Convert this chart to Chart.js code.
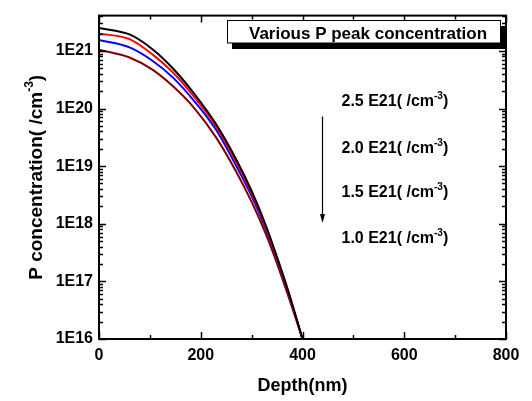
<!DOCTYPE html>
<html>
<head>
<meta charset="utf-8">
<script src="https://cdn.jsdelivr.net/npm/chart.js@4/dist/chart.umd.min.js"></script>
<style>
  body { margin: 0; background: #fff; }
  #wrap { width: 532px; height: 401px; }
</style>
</head>
<body>
<div id="wrap"><canvas id="chart"></canvas></div>
<script>
// depth points (nm)
const depth = [0, 60, 105, 145, 188, 230, 270, 300, 328, 350, 372, 400];

// P concentration (/cm^3) for each peak value
const peak25 = [2.5e21, 1.93e21, 1.07e21, 5.0e20, 1.77e20, 5.37e19, 1.29e19, 3.7e18, 9.3e17, 2.63e17, 6.8e16, 1.0e16];
const peak20 = [2.0e21, 1.6e21, 8.7e20, 4.27e20, 1.56e20, 4.9e19, 1.17e19, 3.39e18, 8.5e17, 2.45e17, 6.5e16, 1.0e16];
const peak15 = [1.55e21, 1.15e21, 6.76e20, 3.47e20, 1.32e20, 4.27e19, 1.0e19, 3.02e18, 7.9e17, 2.34e17, 6.3e16, 1.0e16];
const peak10 = [1.05e21, 7.7e20, 4.73e20, 2.45e20, 1.0e20, 3.16e19, 7.94e18, 2.4e18, 6.6e17, 2.04e17, 5.6e16, 1.0e16];

const seriesLabels = ['2.5 E21', '2.0 E21', '1.5 E21', '1.0 E21'];
const xTicks = [0, 200, 400, 600, 800];
const yDecades = [16, 17, 18, 19, 20, 21];

const FONT = '"Liberation Sans", Arial, sans-serif';

function toPoints(vals) {
    return depth.map((d, i) => ({ x: d, y: vals[i] }));
}

function isDecade(v) {
    const e = Math.log10(v);
    return Math.abs(e - Math.round(e)) < 1e-9;
}

// text with a raised "-3" part, used by the titles and the labels
function drawSup(ctx, x, y, base, sup, tail, size, align) {
    const big = 'bold ' + size + 'px ' + FONT;
    const small = 'bold ' + Math.round(size * 0.62) + 'px ' + FONT;
    ctx.font = big;
    const w1 = ctx.measureText(base).width;
    const w3 = ctx.measureText(tail).width;
    ctx.font = small;
    const w2 = ctx.measureText(sup).width;
    let start = x;
    if (align === 'center') start = x - (w1 + w2 + w3) / 2;
    ctx.textAlign = 'left';
    ctx.textBaseline = 'alphabetic';
    ctx.fillStyle = '#000';
    ctx.font = big;
    ctx.fillText(base, start, y);
    ctx.font = small;
    ctx.fillText(sup, start + w1, y - size * 0.45);
    ctx.font = big;
    ctx.fillText(tail, start + w1 + w2, y);
}

const framePlugin = {
    id: 'frame',
    afterDraw(chart) {
        const ctx = chart.ctx;
        const a = chart.chartArea;
        const xs = chart.scales.x;
        const ys = chart.scales.y;
        ctx.save();
        ctx.strokeStyle = '#000';
        ctx.lineWidth = 2;
        ctx.strokeRect(a.left, a.top, a.right - a.left, a.bottom - a.top);

        // inward tick marks on all four sides
        ctx.lineWidth = 1.5;
        ctx.beginPath();
        for (let v = 0; v <= 800; v += 100) {
            const px = Math.round(xs.getPixelForValue(v)) + 0.5;
            const len = v % 200 === 0 ? 7 : 4;
            ctx.moveTo(px, a.bottom); ctx.lineTo(px, a.bottom - len);
            ctx.moveTo(px, a.top); ctx.lineTo(px, a.top + len);
        }
        yDecades.forEach(e => {
            for (let m = 1; m <= 9; m++) {
                const v = m * Math.pow(10, e);
                if (v > ys.max) break;
                const py = Math.round(ys.getPixelForValue(v)) + 0.5;
                const len = m === 1 ? 7 : 4;
                ctx.moveTo(a.left, py); ctx.lineTo(a.left + len, py);
                ctx.moveTo(a.right, py); ctx.lineTo(a.right - len, py);
            }
        });
        ctx.stroke();
        ctx.restore();
    }
};

const notesPlugin = {
    id: 'notes',
    afterDraw(chart) {
        const ctx = chart.ctx;
        const a = chart.chartArea;
        ctx.save();

        // title box with shadow
        ctx.fillStyle = '#000';
        ctx.fillRect(232, 26, 274, 23);
        ctx.fillStyle = '#fff';
        ctx.fillRect(227.5, 20.5, 273, 22.5);
        ctx.strokeStyle = '#000';
        ctx.lineWidth = 1;
        ctx.strokeRect(227.5, 20.5, 273, 22.5);
        ctx.fillStyle = '#000';
        ctx.font = 'bold 17px ' + FONT;
        ctx.textAlign = 'left';
        ctx.textBaseline = 'alphabetic';
        ctx.fillText('Various P peak concentration', 249, 38.5);

        // peak labels
        const baselines = [106, 152.7, 196.7, 243.3];
        seriesLabels.forEach((s, i) => {
            drawSup(ctx, 341.5, baselines[i], s + '( /cm', '-3', ')', 16, 'left');
        });

        // arrow
        ctx.strokeStyle = '#000';
        ctx.lineWidth = 1.2;
        ctx.beginPath();
        ctx.moveTo(322.5, 116.5);
        ctx.lineTo(322.5, 216);
        ctx.stroke();
        ctx.beginPath();
        ctx.moveTo(320, 214);
        ctx.lineTo(325, 214);
        ctx.lineTo(322.5, 223);
        ctx.closePath();
        ctx.fill();

        // y axis title
        ctx.translate(35.5, (a.top + a.bottom) / 2);
        ctx.rotate(-Math.PI / 2);
        drawSup(ctx, 0, 6, 'P concentration( /cm', '-3', ')', 19, 'center');
        ctx.restore();
    }
};

new Chart(document.getElementById('chart'), {
    type: 'line',
    data: {
        datasets: [
            { label: seriesLabels[0], data: toPoints(peak25), borderColor: '#000000' },
            { label: seriesLabels[1], data: toPoints(peak20), borderColor: '#ff0000' },
            { label: seriesLabels[2], data: toPoints(peak15), borderColor: '#0000ff' },
            { label: seriesLabels[3], data: toPoints(peak10), borderColor: '#800000' }
        ].map(ds => Object.assign(ds, { borderWidth: 2, pointRadius: 0, cubicInterpolationMode: 'monotone', fill: false }))
    },
    options: {
        responsive: true,
        maintainAspectRatio: false,
        animation: false,
        layout: { padding: { left: 0, right: 26, top: 10, bottom: 0 } },
        plugins: {
            legend: { display: false },
            tooltip: { enabled: false }
        },
        scales: {
            x: {
                type: 'linear',
                min: 0,
                max: 800,
                afterFit: s => { s.height = 62; },
                afterBuildTicks: s => { s.ticks = xTicks.map(v => ({ value: v })); },
                grid: { display: false, drawTicks: false },
                border: { display: false },
                ticks: {
                    padding: 7,
                    color: '#000',
                    font: { family: FONT, size: 16, weight: 'bold' }
                },
                title: {
                    display: true,
                    text: 'Depth(nm)',
                    color: '#000',
                    padding: { top: 0, bottom: 4 },
                    font: { family: FONT, size: 18, weight: 'bold' }
                }
            },
            y: {
                type: 'logarithmic',
                min: 1e16,
                max: 4.1e21,
                afterFit: s => { s.width = 99; },
                grid: { display: false, drawTicks: false },
                border: { display: false },
                ticks: {
                    autoSkip: false,
                    padding: 6,
                    color: '#000',
                    font: { family: FONT, size: 16, weight: 'bold' },
                    callback: v => isDecade(v) ? '1E' + Math.round(Math.log10(v)) : ''
                }
            }
        }
    },
    plugins: [framePlugin, notesPlugin]
});
</script>
</body>
</html>
